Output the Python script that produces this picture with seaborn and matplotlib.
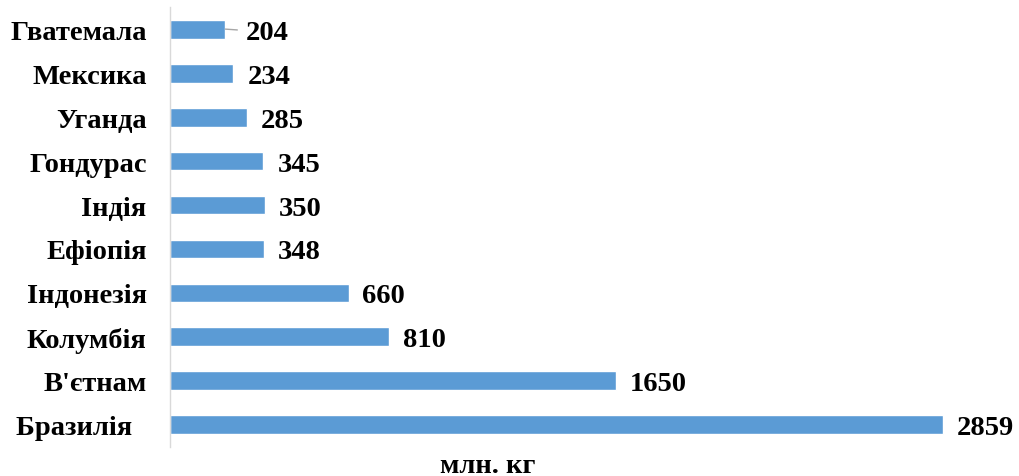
import matplotlib
matplotlib.use("Agg")
import matplotlib.pyplot as plt
import seaborn as sns
import pandas as pd

countries = ["Гватемала", "Мексика", "Уганда", "Гондурас", "Індія",
             "Ефіопія", "Індонезія", "Колумбія", "В'єтнам", "Бразилія  "]
values = [204, 234, 285, 345, 350, 348, 660, 810, 1650, 2859]
unit_label = "млн. кг"

sns.set_theme(style="white")
plt.rcParams['font.family'] = ['Liberation Serif', 'DejaVu Serif']
plt.rcParams['font.weight'] = 'bold'

df = pd.DataFrame({"country": countries, "value": values})

fig = plt.figure(figsize=(10.19, 4.77), dpi=100)
ax = fig.add_axes([0.167, 0.061, 0.804, 0.922])
sns.barplot(data=df, x="value", y="country", orient="h", color="#5B9BD5",
            saturation=1, width=0.43, ax=ax)

ax.set_xlim(0, max(values) * 1.06)
ax.set_ylim(len(values) - 0.5, -0.5)
ax.set_xticks([])
ax.set_ylabel("")
ax.set_xlabel(unit_label, fontsize=20.5, fontweight='bold', color='black')
ax.xaxis.set_label_coords(0.387, -0.013)

for s in ["top", "right", "bottom"]:
    ax.spines[s].set_visible(False)
ax.spines["left"].set_color("#d9d9d9")
ax.spines["left"].set_linewidth(1)

ax.tick_params(axis='y', length=0, pad=17, labelsize=20.5, labelcolor='black')
for t in ax.get_yticklabels():
    t.set_fontweight('bold')

for i, v in enumerate(values):
    if i == 0:
        ax.annotate(f"{v}", xy=(v, i), xytext=(15, 0), textcoords="offset points",
                    va="center_baseline", ha="left", fontsize=20.5,
                    fontweight='bold', color='black',
                    arrowprops=dict(arrowstyle="-", color="#a6a6a6", lw=1,
                                    shrinkA=4, shrinkB=0))
    else:
        ax.annotate(f"{v}", xy=(v, i), xytext=(10, 0), textcoords="offset points",
                    va="center_baseline", ha="left", fontsize=20.5,
                    fontweight='bold', color='black')

fig.savefig("out.png", dpi=100)
